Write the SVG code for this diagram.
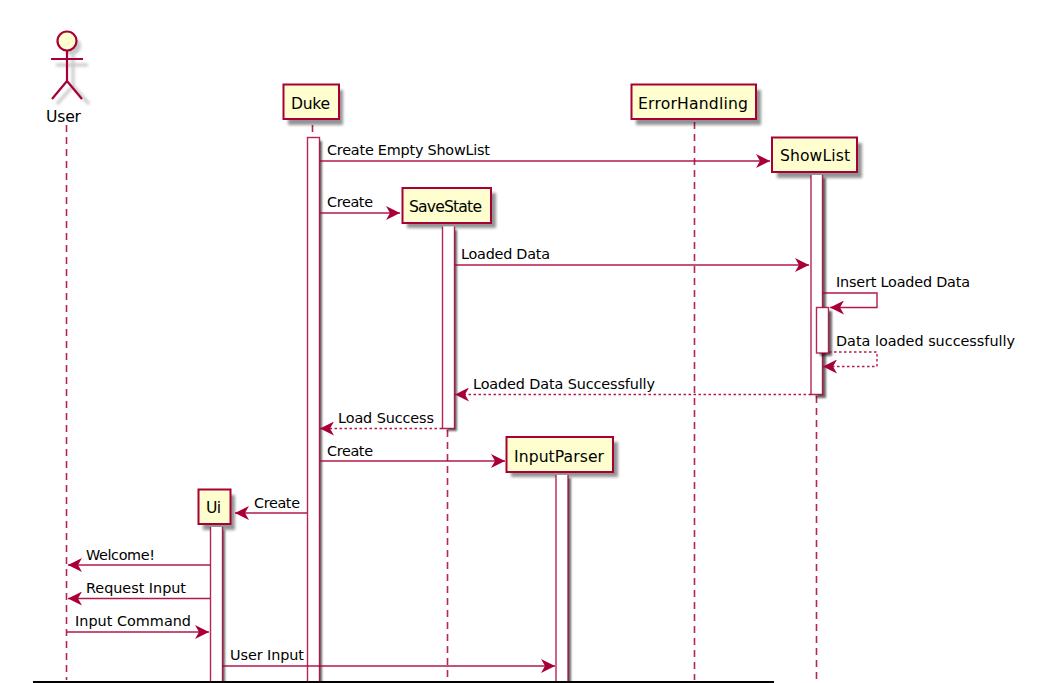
<svg xmlns="http://www.w3.org/2000/svg" width="1042" height="683" viewBox="0 0 1042 683">
<style>
text{font-family:"DejaVu Sans","Liberation Sans",sans-serif;font-size:15.6px;fill:#000}
.lbl{font-size:14.4px}
.part{fill:#FEFECE;stroke:#A80036;stroke-width:2}
.sh{fill:#000;opacity:.42;filter:url(#b)}
.life{stroke:#A80036;stroke-width:1.6;stroke-dasharray:7 5;fill:none;opacity:.85}
.act{fill:#fff;stroke:#A80036;stroke-width:1.4;stroke-opacity:.85}
.fillonly{fill:#fff}
.edge{stroke:#A80036;stroke-width:1.4;stroke-opacity:.85;fill:none}
.actsh{fill:#000;opacity:.6;filter:url(#b2)}
.msg{stroke:#A80036;stroke-width:1.4;fill:none;stroke-opacity:.9;marker-end:url(#arr)}
.ret{stroke-dasharray:2.5 2.5}
.actor{stroke:#A80036;stroke-width:2.2;fill:none}
</style>
<defs>
<filter id="b" x="-30%" y="-30%" width="160%" height="160%"><feGaussianBlur stdDeviation="1.6"/></filter>
<filter id="b2" x="-50%" y="-5%" width="200%" height="110%"><feGaussianBlur stdDeviation="1"/></filter>
<marker id="arr" viewBox="0 0 15 14" refX="14" refY="7" markerWidth="15" markerHeight="14" markerUnits="userSpaceOnUse" orient="auto"><path d="M0 0L14 7L0 14L4 7Z" fill="#A80036"/></marker>
</defs>
<rect width="1042" height="683" fill="#fff"/>
<g id="lifelines">
<path class="life" d="M66.500 125V680"/>
<path class="life" d="M312.500 125V140"/>
<path class="life" d="M694.500 122V680"/>
<path class="life" d="M447.500 430V677"/>
<path class="life" d="M816.500 396V683"/>
</g>
<g id="user">
<g class="sh" style="opacity:.22"><circle cx="72" cy="46" r="9"/><path d="M56 65H88M73 55V86M73 86L57 104M73 86L89 104" stroke="#000" stroke-width="3" fill="none"/></g>
<circle cx="67" cy="41" r="9.500" fill="#FEFECE" stroke="#A80036" stroke-width="2.200"/>
<path class="actor" d="M51 59H83M67 50V81M67 81L52 99M67 81L82 99"/>
<text x="46" y="122" textLength="35" lengthAdjust="spacing">User</text>
</g>
<g id="duke">
<rect class="sh" x="288" y="90" width="55" height="35"/>
<rect class="part" x="283.500" y="84.500" width="55.500" height="34.500"/>
<text x="291" y="109" textLength="39" lengthAdjust="spacing">Duke</text>
<rect class="actsh" x="312" y="141" width="10" height="542"/>
<rect class="act" x="307.500" y="137.500" width="12" height="550"/>
</g>
<g id="errorhandling">
<rect class="sh" x="636" y="90" width="125" height="35"/>
<rect class="part" x="631.500" y="84.500" width="124.500" height="34.500"/>
<text x="638" y="109" textLength="110" lengthAdjust="spacing">ErrorHandling</text>
</g>
<g id="showlist">
<rect class="sh" x="777" y="143" width="85" height="35"/>
<rect class="part" x="772" y="137.500" width="85" height="34.500"/>
<text x="780" y="161" textLength="70" lengthAdjust="spacing">ShowList</text>
<rect class="actsh" x="816" y="178" width="10" height="220"/>
<rect class="fillonly" x="811" y="175" width="11.500" height="219.500"/>
<path class="edge" d="M811 175V394.500H822.500V175"/>
<rect class="actsh" x="820" y="311" width="12" height="45"/>
<rect class="act" x="816.500" y="307.500" width="12" height="45.500"/>
</g>
<g id="savestate">
<rect class="sh" x="407" y="193" width="89" height="35"/>
<rect class="part" x="402.500" y="188" width="88.500" height="35"/>
<text x="409" y="212" textLength="73" lengthAdjust="spacing">SaveState</text>
<rect class="actsh" x="447" y="230" width="10" height="201"/>
<rect class="fillonly" x="442.500" y="226.500" width="12" height="202"/>
<path class="edge" d="M442.500 226.500V428.500H454.500V226.500"/>
</g>
<g id="inputparser">
<rect class="sh" x="511" y="442" width="107" height="35"/>
<rect class="part" x="506.500" y="437" width="106.500" height="35"/>
<text x="514" y="462" textLength="90" lengthAdjust="spacing">InputParser</text>
<rect class="actsh" x="561" y="478" width="10" height="205"/>
<rect class="fillonly" x="556" y="475" width="12" height="212"/>
<path class="edge" d="M556 475V687M568 475V687"/>
</g>
<g id="ui">
<rect class="sh" x="203" y="495" width="32" height="35"/>
<rect class="part" x="198.500" y="489.500" width="32" height="34.500"/>
<text x="206" y="513" textLength="15" lengthAdjust="spacing">Ui</text>
<rect class="actsh" x="215" y="530" width="10" height="153"/>
<rect class="fillonly" x="210.500" y="527" width="12" height="160"/>
<path class="edge" d="M210.500 527V687M222.500 527V687"/>
</g>
<g id="connectors">
<path class="msg" d="M320 161H770"/>
<path class="msg" d="M320 213H400"/>
<path class="msg" d="M455 265H809"/>
<path class="msg" d="M823 293H877V307.500H830"/>
<path class="msg ret" d="M829 352H877V366.500H823"/>
<path class="msg ret" d="M811 394.500H455"/>
<path class="msg ret" d="M442 428.500H320"/>
<path class="msg" d="M320 461H505"/>
<path class="msg" d="M307 513H235"/>
<path class="msg" d="M210 565H68"/>
<path class="msg" d="M210 598.500H68"/>
<path class="msg" d="M67 632H209"/>
<path class="msg" d="M222 666H555"/>
</g>
<g id="labels">
<text class="lbl" x="327" y="155" textLength="163" lengthAdjust="spacing">Create Empty ShowList</text>
<text class="lbl" x="327" y="207" textLength="46" lengthAdjust="spacing">Create</text>
<text class="lbl" x="461" y="259" textLength="89" lengthAdjust="spacing">Loaded Data</text>
<text class="lbl" x="836" y="287" textLength="134" lengthAdjust="spacing">Insert Loaded Data</text>
<text class="lbl" x="836" y="346" textLength="179" lengthAdjust="spacing">Data loaded successfully</text>
<text class="lbl" x="473" y="389" textLength="182" lengthAdjust="spacing">Loaded Data Successfully</text>
<text class="lbl" x="338" y="423" textLength="96" lengthAdjust="spacing">Load Success</text>
<text class="lbl" x="327" y="456" textLength="46" lengthAdjust="spacing">Create</text>
<text class="lbl" x="254" y="508" textLength="46" lengthAdjust="spacing">Create</text>
<text class="lbl" x="86" y="560" textLength="69" lengthAdjust="spacing">Welcome!</text>
<text class="lbl" x="86" y="593" textLength="100" lengthAdjust="spacing">Request Input</text>
<text class="lbl" x="75" y="626" textLength="116" lengthAdjust="spacing">Input Command</text>
<text class="lbl" x="230" y="660" textLength="74" lengthAdjust="spacing">User Input</text>
</g>
<path id="cut" d="M33 682H774" stroke="#000" stroke-width="2"/>
</svg>
